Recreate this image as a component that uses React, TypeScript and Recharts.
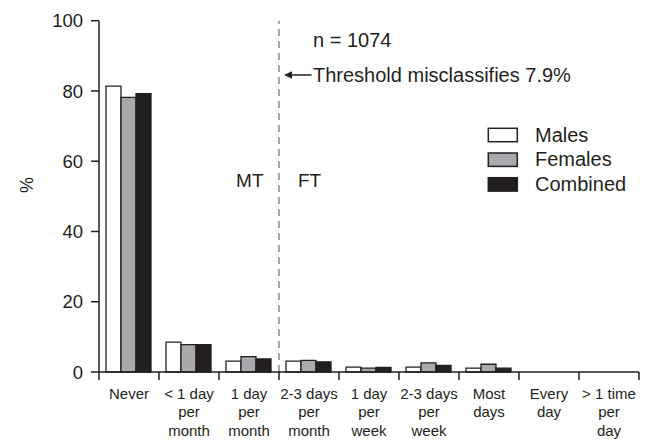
import React from "react";
import {
  BarChart,
  Bar,
  XAxis,
  YAxis,
  ReferenceLine,
  Legend,
  Customized,
} from "recharts";

// categories on the x axis, "\n" splits the label lines
const categories = [
  "Never",
  "< 1 day\nper\nmonth",
  "1 day\nper\nmonth",
  "2-3 days\nper\nmonth",
  "1 day\nper\nweek",
  "2-3 days\nper\nweek",
  "Most\ndays",
  "Every\nday",
  "> 1 time\nper\nday",
];

const males = [81.4, 8.5, 3.1, 3.1, 1.4, 1.4, 1.1, 0, 0];
const females = [78.2, 7.8, 4.4, 3.3, 1.1, 2.6, 2.2, 0, 0];
const combined = [79.2, 7.8, 3.7, 2.9, 1.3, 1.9, 1.1, 0, 0];

const yTicks = [0, 20, 40, 60, 80, 100];

const series = [
  { key: "males", name: "Males", fill: "#ffffff" },
  { key: "females", name: "Females", fill: "#a7a9ac" },
  { key: "combined", name: "Combined", fill: "#231f20" },
];

const data = categories.map((name, i) => ({
  name,
  males: males[i],
  females: females[i],
  combined: combined[i],
}));

const INK = "#231f20";

const CategoryTick = (props: any) => {
  const { x, y, payload, index, visibleTicksCount } = props;
  const half = payload && payload.offset ? payload.offset : 30;
  const lines = String(payload.value).split("\n");
  const isLast = index === (visibleTicksCount ?? categories.length) - 1;
  return (
    <g>
      <line x1={x - half} x2={x - half} y1={y} y2={y + 8} stroke={INK} strokeWidth={1.5} />
      {isLast && (
        <line x1={x + half} x2={x + half} y1={y} y2={y + 8} stroke={INK} strokeWidth={1.5} />
      )}
      <text x={x} y={y + 26.5} textAnchor="middle" fontSize={15} fill={INK}>
        {lines.map((l, i) => (
          <tspan key={i} x={x} dy={i === 0 ? 0 : 18.5}>
            {l}
          </tspan>
        ))}
      </text>
    </g>
  );
};

const LegendBox = () => (
  <svg width={170} height={90}>
    {series.map((s, i) => (
      <g key={s.key}>
        <rect
          x={10.3}
          y={10.3 + i * 24.7}
          width={29}
          height={13.4}
          fill={s.fill}
          stroke={INK}
          strokeWidth={1.5}
        />
        <text x={57} y={23.7 + i * 24.7} fontSize={20} fill={INK}>
          {s.name}
        </text>
      </g>
    ))}
  </svg>
);

const Annotations = () => (
  <g fill={INK}>
    <text
      x={26.7}
      y={185}
      fontSize={18}
      textAnchor="middle"
      dominantBaseline="central"
      transform="rotate(-90 26.7 185)"
    >
      %
    </text>
    <text x={263.5} y={186.7} fontSize={19} textAnchor="end">
      MT
    </text>
    <text x={298} y={186.7} fontSize={19}>
      FT
    </text>
    <text x={313} y={46.7} fontSize={20}>
      n = 1074
    </text>
    <line x1={291} x2={311.5} y1={75} y2={75} stroke={INK} strokeWidth={1.5} />
    <polygon points="284,75 292,71.3 292,78.7" fill={INK} />
    <text x={313} y={81.7} fontSize={20}>
      Threshold misclassifies 7.9%
    </text>
  </g>
);

export default function App() {
  return (
    <div
      style={{
        position: "absolute",
        left: 0,
        top: 0,
        width: 654,
        height: 440,
        background: "#ffffff",
        fontFamily: "'Liberation Sans', Arial, Helvetica, sans-serif",
      }}
    >
      <BarChart
        width={654}
        height={440}
        data={data}
        margin={{ top: 20.7, right: 15, left: 39, bottom: 0 }}
        barCategoryGap={7}
        barGap={0}
      >
        <XAxis
          dataKey="name"
          interval={0}
          height={68}
          tickSize={0}
          tickMargin={0}
          tickLine={false}
          axisLine={{ stroke: INK, strokeWidth: 1.5 }}
          tick={<CategoryTick />}
        />
        <YAxis
          width={60}
          domain={[0, 100]}
          ticks={yTicks}
          interval={0}
          tickSize={8}
          tickMargin={8}
          axisLine={{ stroke: INK, strokeWidth: 1.5 }}
          tickLine={{ stroke: INK, strokeWidth: 1.5 }}
          tick={{ fill: INK, fontSize: 18.5 }}
        />
        <ReferenceLine
          x={categories[3]}
          position="start"
          stroke="#8c8c8c"
          strokeWidth={1.5}
          strokeDasharray="7 5"
          ifOverflow="visible"
        />
        {series.map((s) => (
          <Bar
            key={s.key}
            dataKey={s.key}
            name={s.name}
            fill={s.fill}
            stroke={INK}
            strokeWidth={1.3}
            isAnimationActive={false}
          />
        ))}
        <Legend
          layout="vertical"
          align="center"
          verticalAlign="middle"
          wrapperStyle={{ left: 478, top: 118, width: 170, height: 90 }}
          content={() => <LegendBox />}
        />
        <Customized component={<Annotations />} />
      </BarChart>
    </div>
  );
}
